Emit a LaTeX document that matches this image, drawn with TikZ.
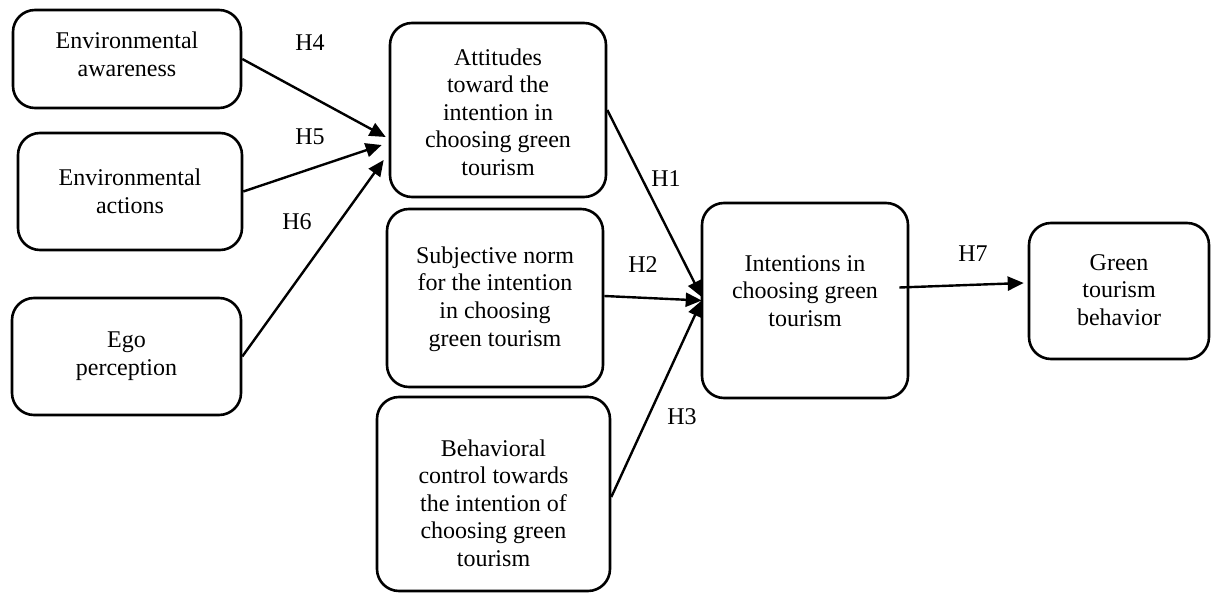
\documentclass[tikz,border=0pt]{standalone}
\usepackage{fontspec}
\setmainfont{Liberation Serif}
\usetikzlibrary{arrows.meta}
\begin{document}
\begin{tikzpicture}[x=1pt,y=-1pt,
  box/.style={draw=black, line width=2.6pt, rounded corners=22pt, inner sep=0pt},
  txt/.style={font=\fontsize{24}{27.6}\selectfont, align=center, inner sep=0pt},
  lbl/.style={font=\fontsize{24}{27.6}\selectfont, inner sep=0pt},
  arr/.style={line width=2.4pt, -{Triangle[length=16pt,width=14pt]}}]
\useasboundingbox (0,0) rectangle (1211,593);
% boxes
\node[box, minimum width=228pt, minimum height=98pt] (ea) at (127,59) {};
\node[box, minimum width=224pt, minimum height=117pt] (eact) at (130,191.5) {};
\node[box, minimum width=229pt, minimum height=117pt] (ego) at (126.5,356.5) {};
\node[box, minimum width=216pt, minimum height=174pt] (att) at (498,110) {};
\node[box, minimum width=216pt, minimum height=178pt] (sub) at (495,298) {};
\node[box, minimum width=233pt, minimum height=194pt] (beh) at (493.5,494) {};
\node[box, minimum width=206pt, minimum height=195pt] (int) at (805,300.5) {};
\node[box, minimum width=180pt, minimum height=136pt] (gt) at (1119,291) {};
% texts
\node[txt] (eat) at (127,54) {Environmental\\awareness};
\node[txt] (eactt) at (130,191) {Environmental\\actions};
\node[txt] (egot) at (126.5,356) {Ego\\perception};
\node[txt] (attt) at (498,112) {Attitudes\\toward the\\intention in\\choosing green\\tourism};
\node[txt] (subt) at (495,299) {Subjective norm\\for the intention\\in choosing\\green tourism};
\node[txt] (beht) at (493.5,503) {Behavioral\\control towards\\the intention of\\choosing green\\tourism};
\node[txt] (intt) at (805,291) {Intentions in\\choosing green\\tourism};
\node[txt] (gtt) at (1119,290) {Green\\tourism\\behavior};
% connectors
\draw[arr] (ea.east) -- ([xshift=-3pt,yshift=-27pt]att.west);
\draw[arr] (eact.east) -- ([xshift=-7pt,yshift=-35pt]att.west);
\draw[arr] (ego.east) -- ([xshift=-5pt,yshift=-50pt]att.west);
\draw[arr] (att.east) -- ([xshift=1pt,yshift=3.5pt]int.west);
\draw[arr] ([yshift=2pt]sub.east) -- ([xshift=1pt]int.west);
\draw[arr] ([yshift=-3pt]beh.east) -- ([xshift=1pt]int.west);
\draw[arr] ([xshift=-10pt,yshift=13pt]int.east) -- ([xshift=-4pt,yshift=8pt]gt.west);
% labels
\node[lbl] (h4) at (310,43) {H4};
\node[lbl] (h5) at (310,137) {H5};
\node[lbl] (h6) at (297,222) {H6};
\node[lbl] (h1) at (666,179) {H1};
\node[lbl] (h2) at (643,265) {H2};
\node[lbl] (h3) at (682,417) {H3};
\node[lbl] (h7) at (973,254) {H7};
\end{tikzpicture}
\end{document}
